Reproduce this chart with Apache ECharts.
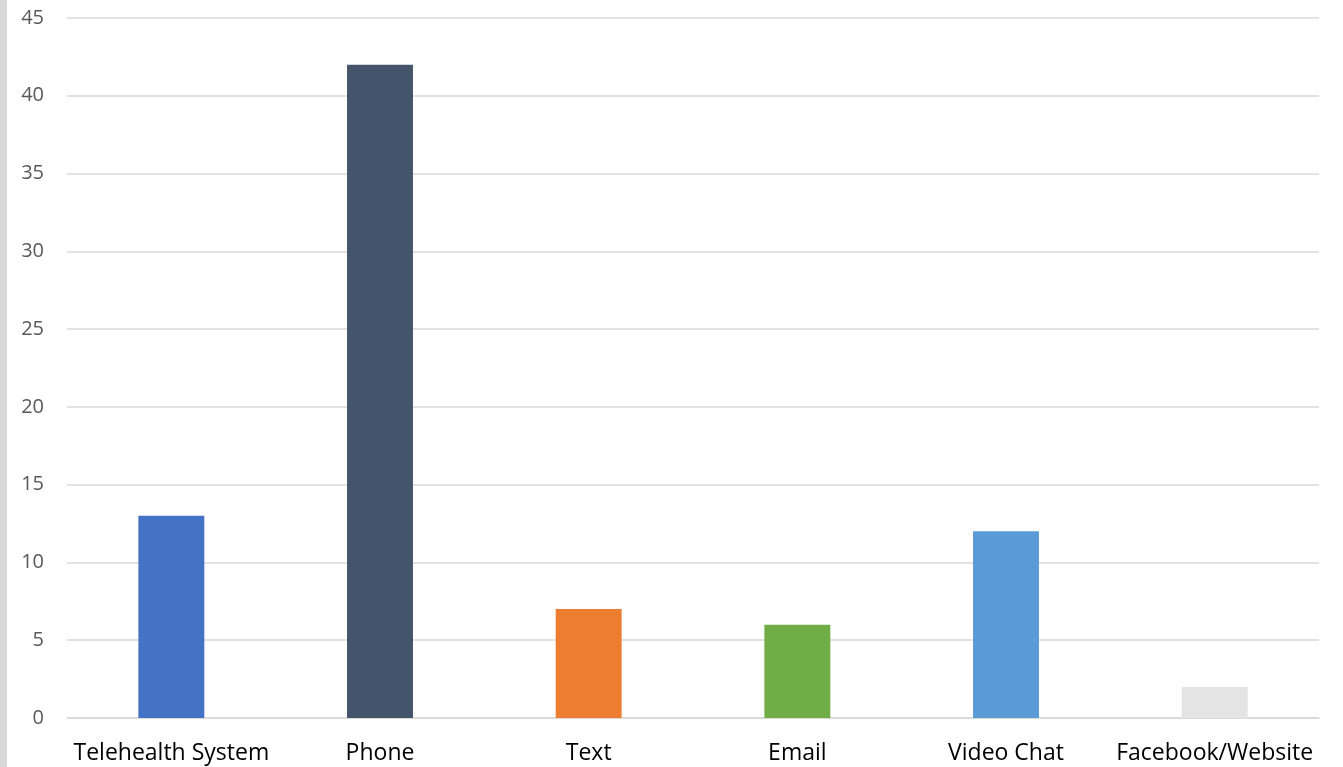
<!DOCTYPE html>
<html><head><meta charset="utf-8">
<script src="https://cdn.jsdelivr.net/npm/echarts@6/dist/echarts.min.js"></script>
<style>html,body{margin:0;padding:0;background:#fff}#c{width:1343px;height:767px}</style>
</head><body><div id="c"></div>
<script>
const categories = ['Telehealth System', 'Phone', 'Text', 'Email', 'Video Chat', 'Facebook/Website'];
const values = [13, 42, 7, 6, 12, 2];
const barColors = ['#4472C4', '#44546A', '#ED7D31', '#70AD47', '#5B9BD5', '#E4E4E4'];
const chart = echarts.init(document.getElementById('c'));
chart.setOption({
  animation: false,
  graphic: [{type: 'rect', shape: {x: 0, y: 0, width: 7, height: 767}, style: {fill: '#d9d9d9'}}],
  grid: {left: 67, right: 24, top: 18, bottom: 49},
  xAxis: {
    type: 'category', data: categories,
    axisLine: {lineStyle: {color: '#d9d9d9', width: 1.5}},
    axisTick: {show: false},
    axisLabel: {color: '#000', fontSize: 23, fontFamily: 'Open Sans', margin: 24, interval: 0}
  },
  yAxis: {
    type: 'value', min: 0, max: 45, interval: 5,
    axisLine: {show: false}, axisTick: {show: false},
    splitLine: {lineStyle: {color: '#d9d9d9', width: 1.5}},
    axisLabel: {color: '#595959', fontSize: 20, fontFamily: 'Open Sans', margin: 23}
  },
  series: [{
    type: 'bar', barWidth: '31.6%',
    data: values.map((v, i) => ({value: v, itemStyle: {color: barColors[i]}}))
  }]
});
</script></body></html>
